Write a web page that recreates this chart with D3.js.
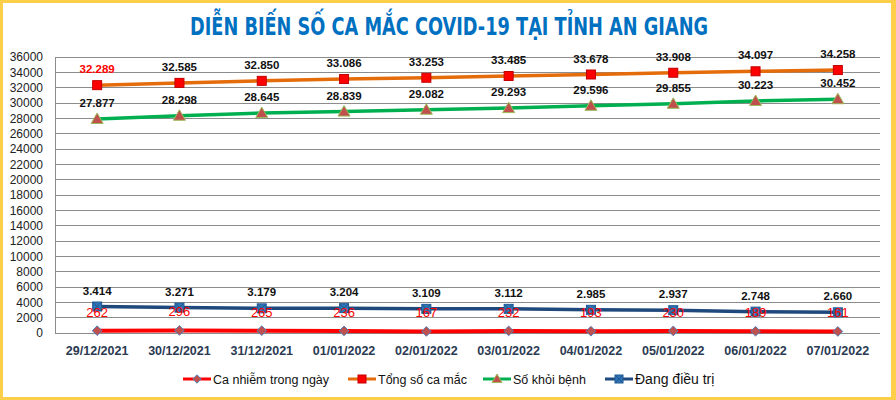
<!DOCTYPE html>
<html><head><meta charset="utf-8">
<script src="https://cdn.jsdelivr.net/npm/d3@7/dist/d3.min.js"></script>
<style>body{margin:0;background:#fff}svg{display:block}</style>
</head><body>
<svg id="c" width="896" height="400"></svg>
<script>
const categories = ["29/12/2021","30/12/2021","31/12/2021","01/01/2022","02/01/2022","03/01/2022","04/01/2022","05/01/2022","06/01/2022","07/01/2022"];
const dailyCases = [262,296,265,236,167,232,193,230,189,161];
const totalCases = [32289,32585,32850,33086,33253,33485,33678,33908,34097,34258];
const recovered = [27877,28298,28645,28839,29082,29293,29596,29855,30223,30452];
const underTreatment = [3414,3271,3179,3204,3109,3112,2985,2937,2748,2660];
const yTicks = d3.range(0, 36001, 2000);
const seriesNames = ["Ca nhiễm trong ngày","Tổng số ca mắc","Số khỏi bệnh","Đang điều trị"];

const svg = d3.select("#c");
const W = 896, H = 400;
const fmt = v => d3.format(",")(v).replace(/,/g, ".");

// border
svg.append("rect").attr("x",1.5).attr("y",1.5).attr("width",W-3-2).attr("height",H-3)
  .attr("fill","#fff").attr("stroke","#FFCF4A").attr("stroke-width",3);
svg.append("rect").attr("x",891).attr("y",0).attr("width",5).attr("height",H).attr("fill","#FFCF4A");

// title
svg.append("text").attr("x",449).attr("y",35).attr("text-anchor","middle")
  .attr("font-family","'Liberation Sans Narrow','DejaVu Sans Condensed','Liberation Sans',sans-serif")
  .attr("font-weight","bold").attr("font-size",25).attr("fill","#0070C0")
  .attr("textLength",518).attr("lengthAdjust","spacingAndGlyphs")
  .text("DIỄN BIẾN SỐ CA MẮC COVID-19 TẠI TỈNH AN GIANG");

const x = d3.scaleBand().domain(categories).range([56, 879]);
const y = d3.scaleLinear().domain([0, 36000]).range([332.7, 56.7]);
const cx = c => x(c) + x.bandwidth()/2;

// gridlines
svg.append("g").selectAll("line").data(yTicks).join("line")
  .attr("x1",56).attr("x2",880).attr("y1",d=>Math.round(y(d))+0.5).attr("y2",d=>Math.round(y(d))+0.5)
  .attr("stroke","#8C8C8C").attr("stroke-width",1);
svg.append("line").attr("x1",55.5).attr("x2",55.5).attr("y1",Math.round(y(36000))).attr("y2",Math.round(y(0))+1)
  .attr("stroke","#8C8C8C");

// y axis labels
svg.append("g").selectAll("text").data(yTicks).join("text")
  .attr("x",43).attr("y",d=>y(d)+4.5).attr("text-anchor","end")
  .attr("font-family","'Liberation Sans',Arial,sans-serif").attr("font-size",12).attr("fill","#222")
  .text(d=>d);

// x axis labels
svg.append("g").selectAll("text").data(categories).join("text")
  .attr("x",d=>cx(d)).attr("y",355).attr("text-anchor","middle")
  .attr("font-family","'Liberation Sans',Arial,sans-serif").attr("font-weight","bold").attr("font-size",12.5)
  .attr("fill","#2B3A52").text(d=>d);

const line = d3.line().x((d,i)=>cx(categories[i])).y(d=>y(d));
function drawLine(data, color, w){
  svg.append("path").datum(data).attr("d",line).attr("fill","none").attr("stroke",color).attr("stroke-width",w);
}
drawLine(underTreatment, "#1F497D", 3.5);
drawLine(dailyCases, "#FF0000", 4);
drawLine(totalCases, "#E46C0A", 3.5);
drawLine(recovered, "#00B050", 3.5);

// markers
function squareMarker(g, px, py, s, fill, stroke){
  g.append("rect").attr("x",px-s/2).attr("y",py-s/2).attr("width",s).attr("height",s)
    .attr("fill",fill).attr("stroke",stroke).attr("stroke-width",1);
}
const gm = svg.append("g");
underTreatment.forEach((v,i)=>{
  const px = cx(categories[i]), py = y(v);
  squareMarker(gm, px, py, 9, "#2E75B6", "#1F5A96");
  gm.append("path").attr("d",`M${px-4},${py-4}L${px+4},${py+4}M${px+4},${py-4}L${px-4},${py+4}`)
    .attr("stroke","#1F4E89").attr("stroke-width",0.8);
});
dailyCases.forEach((v,i)=>{
  gm.append("path").attr("transform",`translate(${cx(categories[i])},${y(v)})`)
    .attr("d",d3.symbol(d3.symbolDiamond2, 60)()).attr("fill","#C0504D").attr("stroke","#4F81BD").attr("stroke-width",1);
});
totalCases.forEach((v,i)=>{
  squareMarker(gm, cx(categories[i]), y(v), 9, "#FF0000", "#C00000");
});
recovered.forEach((v,i)=>{
  const px = cx(categories[i]), py = y(v);
  gm.append("path").attr("d",`M${px},${py-6}L${px+6},${py+4.5}L${px-6},${py+4.5}Z`)
    .attr("fill","#C0504D").attr("stroke","#9BBB59").attr("stroke-width",1);
});

// data labels
const lab = svg.append("g").attr("font-family","'Liberation Sans',Arial,sans-serif").attr("text-anchor","middle");
function labels(data, dy, color, bold, size, colorFn){
  lab.append("g").selectAll("text").data(data).join("text")
    .attr("x",(d,i)=>cx(categories[i])).attr("y",d=>y(d)+dy)
    .attr("font-size",size).attr("font-weight",bold?"bold":"normal")
    .attr("fill",(d,i)=>colorFn?colorFn(i):color).text(d=>fmt(d));
}
labels(totalCases, -12, "#111", true, 11.5, i=> i===0 ? "#FF0000" : "#111");
labels(recovered, -12, "#111", true, 11.5);
labels(underTreatment, -12, "#111", true, 11.5);
labels(dailyCases, -14, "#FF0000", false, 13);

// legend
const lg = svg.append("g").attr("font-family","'Liberation Sans',Arial,sans-serif").attr("font-size",12.5).attr("fill","#111");
const legendX = [183, 348, 483, 605];
const legendColors = ["#FF0000","#E46C0A","#00B050","#1F497D"];
const ly = 379;
seriesNames.forEach((n,i)=>{
  const x0 = legendX[i];
  lg.append("line").attr("x1",x0).attr("x2",x0+28).attr("y1",ly).attr("y2",ly)
    .attr("stroke",legendColors[i]).attr("stroke-width",3);
  const mx = x0+14;
  if(i===0){
    lg.append("path").attr("transform",`translate(${mx},${ly})`).attr("d",d3.symbol(d3.symbolDiamond2,45)())
      .attr("fill","#C0504D").attr("stroke","#4F81BD");
  } else if(i===1){
    squareMarker(lg, mx, ly, 8, "#FF0000", "#C00000");
  } else if(i===2){
    lg.append("path").attr("d",`M${mx},${ly-5}L${mx+5},${ly+3.5}L${mx-5},${ly+3.5}Z`)
      .attr("fill","#C0504D").attr("stroke","#9BBB59");
  } else {
    squareMarker(lg, mx, ly, 8, "#2E75B6", "#1F5A96");
    lg.append("path").attr("d",`M${mx-3.5},${ly-3.5}L${mx+3.5},${ly+3.5}M${mx+3.5},${ly-3.5}L${mx-3.5},${ly+3.5}`)
      .attr("stroke","#1F4E89").attr("stroke-width",0.8);
  }
  lg.append("text").attr("x",x0+30).attr("y",ly+5).attr("font-size", i===3?14:12.5).text(n);
});
</script>
</body></html>
